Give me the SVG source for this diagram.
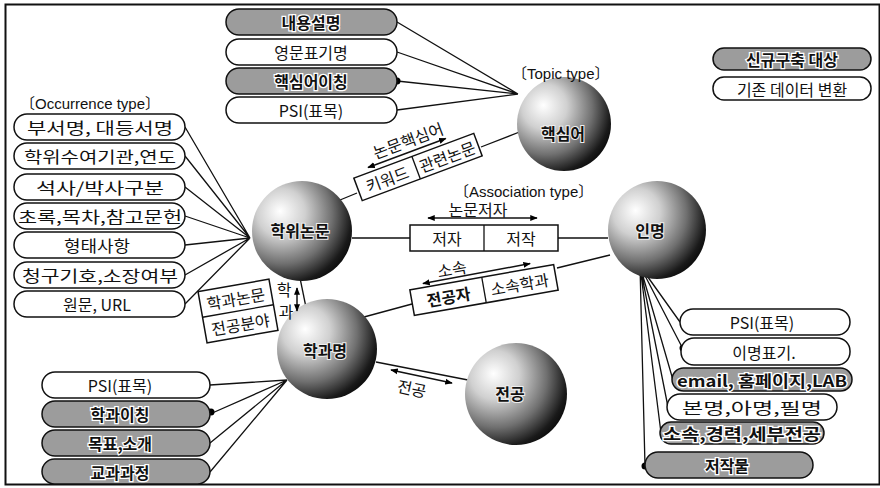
<svg xmlns="http://www.w3.org/2000/svg" width="880" height="488" viewBox="0 0 880 488">
<defs>
<radialGradient id="sph" cx="0.32" cy="0.35" r="0.8" fx="0.28" fy="0.3">
<stop offset="0" stop-color="#ffffff"/>
<stop offset="0.3" stop-color="#d0d0d0"/>
<stop offset="0.62" stop-color="#707070"/>
<stop offset="0.85" stop-color="#1a1a1a"/>
<stop offset="1" stop-color="#000000"/>
</radialGradient>
<marker id="ah" viewBox="0 0 10 10" refX="9" refY="5" markerWidth="5" markerHeight="5" orient="auto-start-reverse"><path d="M0,1 L10,5 L0,9 z" fill="#000"/></marker>
<style>
.t{font-family:"Noto Sans CJK KR","Liberation Sans",sans-serif;font-size:16px;text-anchor:middle;dominant-baseline:central;fill:#111}
.b{font-weight:bold}
.lab{font-family:"Liberation Sans","Noto Sans CJK KR",sans-serif;font-size:15px;fill:#111;dominant-baseline:central}
.w{fill:#fff;stroke:#111;stroke-width:1.5}
.g{fill:#9c9c9c;stroke:#111;stroke-width:1.5}
.gt{font-weight:bold;fill:#111;stroke:#fff;stroke-width:2.5;paint-order:stroke}
.box{fill:#fff;stroke:#111;stroke-width:1.5}
.ln{stroke:#111;stroke-width:1.3;fill:none}
.ar{stroke:#111;stroke-width:1.5;fill:none;marker-start:url(#ah);marker-end:url(#ah)}
.sp{fill:url(#sph)}
.st{font-family:"Noto Sans CJK KR",sans-serif;font-size:16px;font-weight:bold;text-anchor:middle;dominant-baseline:central;fill:#111;stroke:#eee;stroke-width:2;paint-order:stroke}
</style>
</defs>
<rect x="5.5" y="4.5" width="874" height="480" fill="#fff" stroke="#111" stroke-width="2"/>

<g id="connectors">
<path class="ln" d="M397,22 L518,94 M397,52 L518,94 M397,81 L518,94 M397,110 L518,94"/>
<path class="ln" d="M185,127 L250,238 M185,156 L250,238 M185,187 L250,238 M185,216 L250,238 M185,245 L250,238 M185,275 L250,238 M185,304 L250,238"/>
<path class="ln" d="M210,385 L287,380 M210,414 L287,380 M210,443 L287,380 M210,472 L287,380"/>
<path class="ln" d="M640,266 L680,322 M640,266 L683,349 M640,266 L673,380 M640,266 L668,407 M640,266 L661,433 M640,266 L645,466"/>
<path class="ln" d="M340,200 L357,193 M481,147 L522,131"/>
<path class="ln" d="M352,238 L410,238 M558,238 L608,238"/>
<path class="ln" d="M364,317 L412,304 M557,268 L610,255"/>
<path class="ln" d="M300,278 L309,322"/>
<path class="ln" d="M376,362 L468,380"/>
<circle cx="397" cy="81" r="3.5" fill="#000"/>
<circle cx="211" cy="412" r="3.5" fill="#000"/>
<circle cx="683" cy="348" r="3.5" fill="#000"/>
<circle cx="645" cy="466" r="3.5" fill="#000"/>
</g>

<g id="n-keyword"><circle class="sp" cx="564" cy="124" r="47"/><text class="st" x="563" y="133">핵심어</text></g>
<g id="n-thesis"><circle class="sp" cx="302" cy="231" r="50"/><text class="st" x="300" y="230">학위논문</text></g>
<g id="n-person"><circle class="sp" cx="657" cy="230" r="49"/><text class="st" x="650" y="230">인명</text></g>
<g id="n-dept"><circle class="sp" cx="327" cy="349" r="50"/><text class="st" x="325" y="350">학과명</text></g>
<g id="n-major"><circle class="sp" cx="516" cy="394" r="51"/><text class="st" x="510" y="393">전공</text></g>

<g id="topic-occ">
<g id="o-naeyong"><rect class="g" x="226" y="9" width="171" height="26" rx="13"/><text class="t gt" x="311" y="22">내용설명</text></g>
<g id="o-yeongmun"><rect class="w" x="226" y="39" width="171" height="26" rx="13"/><text class="t" x="311" y="52">영문표기명</text></g>
<g id="o-icheong"><rect class="g" x="226" y="68" width="171" height="26" rx="13"/><text class="t gt" x="311" y="81">핵심어이칭</text></g>
<g id="o-psi1"><rect class="w" x="226" y="97" width="171" height="26" rx="13"/><text class="t" x="311" y="110">PSI(표목)</text></g>
</g>

<text class="lab" x="512" y="73">〔Topic type〕</text>
<text class="lab" x="20" y="103">〔Occurrence type〕</text>
<text class="lab" x="454" y="191">〔Association type〕</text>

<g id="legend">
<g id="lg-new"><rect class="g" x="713" y="48" width="158" height="22" rx="11"/><text class="t gt" x="792" y="59" font-size="15">신규구축 대상</text></g>
<g id="lg-old"><rect class="w" x="713" y="77" width="158" height="23" rx="11"/><text class="t" x="792" y="88.5" font-size="15">기존 데이터 변환</text></g>
</g>

<g id="left-occ">
<g><rect class="w" x="14" y="114" width="171" height="26" rx="13"/><text class="t" x="100" y="127" font-size="17" textLength="146" lengthAdjust="spacingAndGlyphs">부서명, 대등서명</text></g>
<g><rect class="w" x="14" y="143" width="171" height="26" rx="13"/><text class="t" x="100" y="156" font-size="17" textLength="152" lengthAdjust="spacingAndGlyphs">학위수여기관,연도</text></g>
<g><rect class="w" x="14" y="174" width="171" height="26" rx="13"/><text class="t" x="100" y="187" font-size="17" textLength="128" lengthAdjust="spacingAndGlyphs">석사/박사구분</text></g>
<g><rect class="w" x="14" y="203" width="171" height="26" rx="13"/><text class="t" x="100" y="216" font-size="17" textLength="164" lengthAdjust="spacingAndGlyphs">초록,목차,참고문헌</text></g>
<g><rect class="w" x="14" y="232" width="171" height="26" rx="13"/><text class="t" x="97" y="245" font-size="17" textLength="66" lengthAdjust="spacingAndGlyphs">형태사항</text></g>
<g><rect class="w" x="14" y="262" width="171" height="26" rx="13"/><text class="t" x="100" y="275" font-size="17" textLength="156" lengthAdjust="spacingAndGlyphs">청구기호,소장여부</text></g>
<g><rect class="w" x="14" y="291" width="171" height="26" rx="13"/><text class="t" x="97" y="304" font-size="17">원문, URL</text></g>
</g>

<g id="bottom-occ">
<g><rect class="w" x="42" y="372" width="168" height="26" rx="13"/><text class="t" x="120" y="385">PSI(표목)</text></g>
<g><rect class="g" x="42" y="401" width="168" height="26" rx="13"/><text class="t gt" x="120" y="414">학과이칭</text></g>
<g><rect class="g" x="42" y="430" width="168" height="26" rx="13"/><text class="t gt" x="120" y="443">목표,소개</text></g>
<g><rect class="g" x="42" y="459" width="168" height="25" rx="12.5"/><text class="t gt" x="120" y="471.5">교과과정</text></g>
</g>

<g id="right-occ">
<g><rect class="w" x="680" y="309" width="170" height="26" rx="13"/><text class="t" x="762" y="322">PSI(표목)</text></g>
<g><rect class="w" x="681" y="338" width="169" height="27" rx="13"/><text class="t" x="764" y="351.5">이명표기.</text></g>
<g><rect class="g" x="672" y="368" width="180" height="23" rx="11.5"/><text class="t gt" x="762" y="379.5" font-size="15" textLength="170" lengthAdjust="spacingAndGlyphs">email, 홈페이지,LAB</text></g>
<g><rect class="w" x="667" y="394" width="170" height="26" rx="13"/><text class="t" x="752" y="407" font-size="17" textLength="140" lengthAdjust="spacingAndGlyphs">본명,아명,필명</text></g>
<g><rect class="g" x="660" y="422" width="164" height="22" rx="11"/><text class="t gt" x="742" y="433" font-size="16" textLength="158" lengthAdjust="spacingAndGlyphs">소속,경력,세부전공</text></g>
<g><rect class="g" x="645" y="452" width="168" height="26" rx="13"/><text class="t gt" x="727" y="465">저작물</text></g>
</g>

<g id="assoc-keyword" transform="translate(418,167) rotate(-20.5)">
<rect class="box" x="-64" y="-12" width="128" height="24"/>
<line class="ln" x1="-2" y1="-12" x2="-2" y2="12"/>
<text class="t" x="-33" y="0" font-size="16">키워드</text>
<text class="t" x="31" y="0" font-size="16">관련논문</text>
<path class="ar" d="M-47,-17 L36,-17"/>
<text class="t" x="0" y="-29" font-size="16">논문핵심어</text>
</g>

<g id="assoc-author">
<rect class="box" x="410" y="225" width="148" height="26" fill="#fafafa"/>
<line class="ln" x1="484" y1="225" x2="484" y2="251"/>
<text class="t" x="447" y="238">저자</text>
<text class="t" x="521" y="238">저작</text>
<path class="ar" d="M428,218 L537,218"/>
<text class="t" x="478" y="209">논문저자</text>
</g>

<g id="assoc-affil" transform="translate(484,290) rotate(-10)">
<rect class="box" x="-73" y="-13" width="146" height="26"/>
<line class="ln" x1="0" y1="-13" x2="0" y2="13"/>
<text class="t b" x="-36" y="0">전공자</text>
<text class="t" x="36" y="0">소속학과</text>
<path class="ar" d="M-59,-17 L50,-18"/>
<text class="t" x="-28" y="-27" font-size="15">소속</text>
</g>

<g id="assoc-dept" transform="translate(238,311) rotate(-10)">
<rect class="box" x="-36" y="-26" width="72" height="52"/>
<line class="ln" x1="-36" y1="0" x2="36" y2="0"/>
<text class="t" x="0" y="-13">학과논문</text>
<text class="t" x="0" y="13">전공분야</text>
</g>
<g id="assoc-dept-label">
<text class="t" x="284" y="289" font-size="13">학</text>
<text class="t" x="286" y="311" font-size="13">과</text>
<path class="ar" d="M297,288 L297,311"/>
</g>

<g id="assoc-major">
<path class="ar" d="M391,370 L452,383"/>
<text class="t" x="412" y="388" font-size="15" transform="rotate(12 412 388)">전공</text>
</g>
</svg>
